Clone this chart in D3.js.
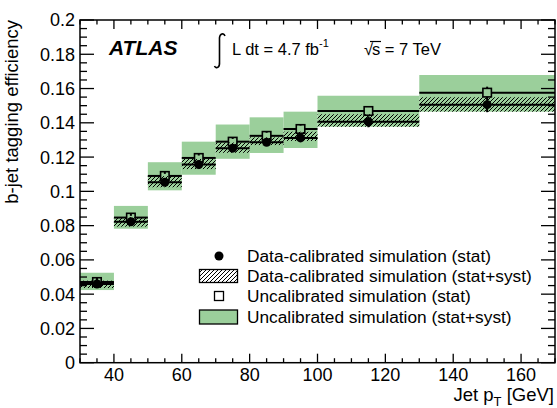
<!DOCTYPE html>
<html><head><meta charset="utf-8">
<script src="https://cdn.jsdelivr.net/npm/d3@7"></script>
<style>
body{margin:0;background:#fff;}
text{font-family:"Liberation Sans",Arial,Helvetica,sans-serif;fill:#000;}
</style></head>
<body>
<svg id="chart" width="557" height="408"></svg>
<script>
// ---- data ----
const binLo = [30, 40, 50, 60, 70, 80, 90, 100, 130];
const binHi = [40, 50, 60, 70, 80, 90, 100, 130, 170];
const dataCal = [0.0459, 0.0822, 0.1053, 0.1156, 0.1252, 0.1286, 0.1312, 0.1406, 0.1506];
const dataCalStat = [0.0008, 0.0010, 0.0012, 0.0014, 0.0016, 0.0018, 0.0020, 0.0032, 0.0044];
const dataCalSystLo = [0.0436, 0.0794, 0.1024, 0.1130, 0.1225, 0.1270, 0.1294, 0.1377, 0.1465];
const dataCalSystHi = [0.0479, 0.0849, 0.1089, 0.1189, 0.1285, 0.1315, 0.1348, 0.1450, 0.1549];
const uncal = [0.0471, 0.0847, 0.1090, 0.1195, 0.1290, 0.1324, 0.1364, 0.1469, 0.1576];
const uncalStat = [0.0008, 0.0010, 0.0012, 0.0014, 0.0016, 0.0018, 0.0020, 0.0025, 0.0035];
const uncalSystLo = [0.0424, 0.0782, 0.1006, 0.1097, 0.1190, 0.1224, 0.1253, 0.1377, 0.1465];
const uncalSystHi = [0.0525, 0.0915, 0.1170, 0.1290, 0.1390, 0.1432, 0.1465, 0.1558, 0.1679];
const yTicks = [0, 0.02, 0.04, 0.06, 0.08, 0.1, 0.12, 0.14, 0.16, 0.18, 0.2];
const xTicks = [40, 60, 80, 100, 120, 140, 160];
const legendLabels = ["Data-calibrated simulation (stat)", "Data-calibrated simulation (stat+syst)",
                      "Uncalibrated simulation (stat)", "Uncalibrated simulation (stat+syst)"];

const green = "#9bcf9b";
const svg = d3.select("#chart");
const L = 80, R = 555, T = 20, B = 362.7;
const x = d3.scaleLinear().domain([30, 170]).range([L, R]);
const y = d3.scaleLinear().domain([0, 0.2]).range([B, T]);

const defs = svg.append("defs");
const pat = defs.append("pattern").attr("id", "hatch").attr("patternUnits", "userSpaceOnUse")
  .attr("width", 4).attr("height", 4);
pat.append("path").attr("d", "M-1,1 L1,-1 M0,4 L4,0 M3,5 L5,3")
  .attr("stroke", "#000").attr("stroke-width", 1);

const idx = d3.range(binLo.length);
const g = svg.append("g");

// green boxes
g.selectAll("rect.unc").data(idx).join("rect")
  .attr("x", i => x(binLo[i])).attr("width", i => x(binHi[i]) - x(binLo[i]))
  .attr("y", i => y(uncalSystHi[i])).attr("height", i => y(uncalSystLo[i]) - y(uncalSystHi[i]))
  .attr("fill", green);
// hatched boxes
g.selectAll("rect.dc").data(idx).join("rect")
  .attr("x", i => x(binLo[i])).attr("width", i => x(binHi[i]) - x(binLo[i]))
  .attr("y", i => y(dataCalSystHi[i])).attr("height", i => y(dataCalSystLo[i]) - y(dataCalSystHi[i]))
  .attr("fill", "url(#hatch)");

const lw = 2, sq = 8.5, rc = 4.5;
// data-calibrated horizontal bars + stat errors + circles
idx.forEach(i => {
  const cx = x((binLo[i] + binHi[i]) / 2), cy = y(dataCal[i]);
  g.append("line").attr("x1", x(binLo[i])).attr("x2", x(binHi[i])).attr("y1", cy).attr("y2", cy)
    .attr("stroke", "#000").attr("stroke-width", lw);
  g.append("line").attr("x1", cx).attr("x2", cx)
    .attr("y1", y(dataCal[i] + dataCalStat[i])).attr("y2", y(dataCal[i] - dataCalStat[i]))
    .attr("stroke", "#000").attr("stroke-width", lw);
  g.append("circle").attr("cx", cx).attr("cy", cy).attr("r", rc).attr("fill", "#000");
});
// uncalibrated bars + squares
idx.forEach(i => {
  const cx = x((binLo[i] + binHi[i]) / 2), cy = y(uncal[i]);
  g.append("line").attr("x1", x(binLo[i])).attr("x2", cx - sq / 2).attr("y1", cy).attr("y2", cy)
    .attr("stroke", "#000").attr("stroke-width", lw);
  g.append("line").attr("x1", cx + sq / 2).attr("x2", x(binHi[i])).attr("y1", cy).attr("y2", cy)
    .attr("stroke", "#000").attr("stroke-width", lw);
  g.append("line").attr("x1", cx).attr("x2", cx)
    .attr("y1", y(uncal[i] + uncalStat[i])).attr("y2", cy - sq / 2)
    .attr("stroke", "#000").attr("stroke-width", lw);
  g.append("line").attr("x1", cx).attr("x2", cx)
    .attr("y1", cy + sq / 2).attr("y2", Math.max(cy + sq / 2, y(uncal[i] - uncalStat[i])))
    .attr("stroke", "#000").attr("stroke-width", lw);
  g.append("rect").attr("x", cx - sq / 2).attr("y", cy - sq / 2).attr("width", sq).attr("height", sq)
    .attr("fill", "none").attr("stroke", "#000").attr("stroke-width", 1.6);
});

// ---- frame & ticks ----
const ax = svg.append("g").attr("stroke", "#000");
ax.append("rect").attr("x", L).attr("y", T).attr("width", R - L).attr("height", B - T)
  .attr("fill", "none").attr("stroke-width", 1.5);
d3.range(30, 170.01, 5).forEach(v => {
  const major = v % 20 === 0, len = major ? 9 : 4.5;
  ax.append("line").attr("x1", x(v)).attr("x2", x(v)).attr("y1", B).attr("y2", B - len).attr("stroke-width", 1.3);
  ax.append("line").attr("x1", x(v)).attr("x2", x(v)).attr("y1", T).attr("y2", T + len).attr("stroke-width", 1.3);
});
d3.range(0, 40.5, 1).forEach(k => {
  const v = k * 0.005, major = k % 4 === 0, len = major ? 14 : 7;
  ax.append("line").attr("x1", L).attr("x2", L + len).attr("y1", y(v)).attr("y2", y(v)).attr("stroke-width", 1.3);
  ax.append("line").attr("x1", R).attr("x2", R - len).attr("y1", y(v)).attr("y2", y(v)).attr("stroke-width", 1.3);
});

// tick labels
svg.selectAll("text.yt").data(yTicks).join("text")
  .attr("x", 75).attr("y", d => y(d)).attr("dy", "0.36em").attr("text-anchor", "end")
  .attr("font-size", 18).text(d => d3.format("~g")(d));
svg.selectAll("text.xt").data(xTicks).join("text")
  .attr("x", d => x(d)).attr("y", 381).attr("text-anchor", "middle")
  .attr("font-size", 18).text(d => d);

// axis titles
svg.append("text").attr("transform", "translate(18,20) rotate(-90)").attr("text-anchor", "end")
  .attr("font-size", 18.5).text("b-jet tagging efficiency");
const xt = svg.append("text").attr("x", 554).attr("y", 401).attr("text-anchor", "end").attr("font-size", 18.5);
xt.append("tspan").text("Jet p");
xt.append("tspan").attr("font-size", 13).attr("dy", 5).text("T");
xt.append("tspan").attr("dy", -5).text(" [GeV]");

// header
svg.append("text").attr("x", 109).attr("y", 55).attr("font-size", 21).attr("font-weight", "bold")
  .attr("font-style", "italic").text("ATLAS");
svg.append("path").attr("d", "M225,36 C223,32 219,34 219.5,40 L219.5,62 C220,68 216,69 214.5,66")
  .attr("fill", "none").attr("stroke", "#000").attr("stroke-width", 1.6);
const lum = svg.append("text").attr("x", 232).attr("y", 55).attr("font-size", 16.5);
lum.append("tspan").text("L dt = 4.7 fb");
lum.append("tspan").attr("font-size", 11).attr("dy", -8).text("-1");
svg.append("text").attr("x", 364).attr("y", 55).attr("font-size", 16.5).text("√");
svg.append("text").attr("x", 372).attr("y", 55).attr("font-size", 16.5).text("s = 7 TeV");
svg.append("line").attr("x1", 370).attr("x2", 381).attr("y1", 41.5).attr("y2", 41.5)
  .attr("stroke", "#000").attr("stroke-width", 1.2);

// legend
const legY = [256, 276, 296, 317];
const lg = svg.append("g");
lg.append("circle").attr("cx", 219).attr("cy", legY[0]).attr("r", rc).attr("fill", "#000");
lg.append("rect").attr("x", 199.5).attr("y", legY[1] - 6.5).attr("width", 38).attr("height", 13)
  .attr("fill", "url(#hatch)").attr("stroke", "#000").attr("stroke-width", 1.3);
lg.append("rect").attr("x", 219 - 4.5).attr("y", legY[2] - 4.5).attr("width", 9).attr("height", 9)
  .attr("fill", "none").attr("stroke", "#000").attr("stroke-width", 1.3);
lg.append("rect").attr("x", 199.5).attr("y", legY[3] - 7).attr("width", 38).attr("height", 14)
  .attr("fill", green).attr("stroke", "#000").attr("stroke-width", 1.3);
lg.selectAll("text").data(legendLabels).join("text")
  .attr("x", 247).attr("y", (d, i) => legY[i]).attr("dy", "0.36em").attr("font-size", 17.3).text(d => d);
</script>
</body></html>
